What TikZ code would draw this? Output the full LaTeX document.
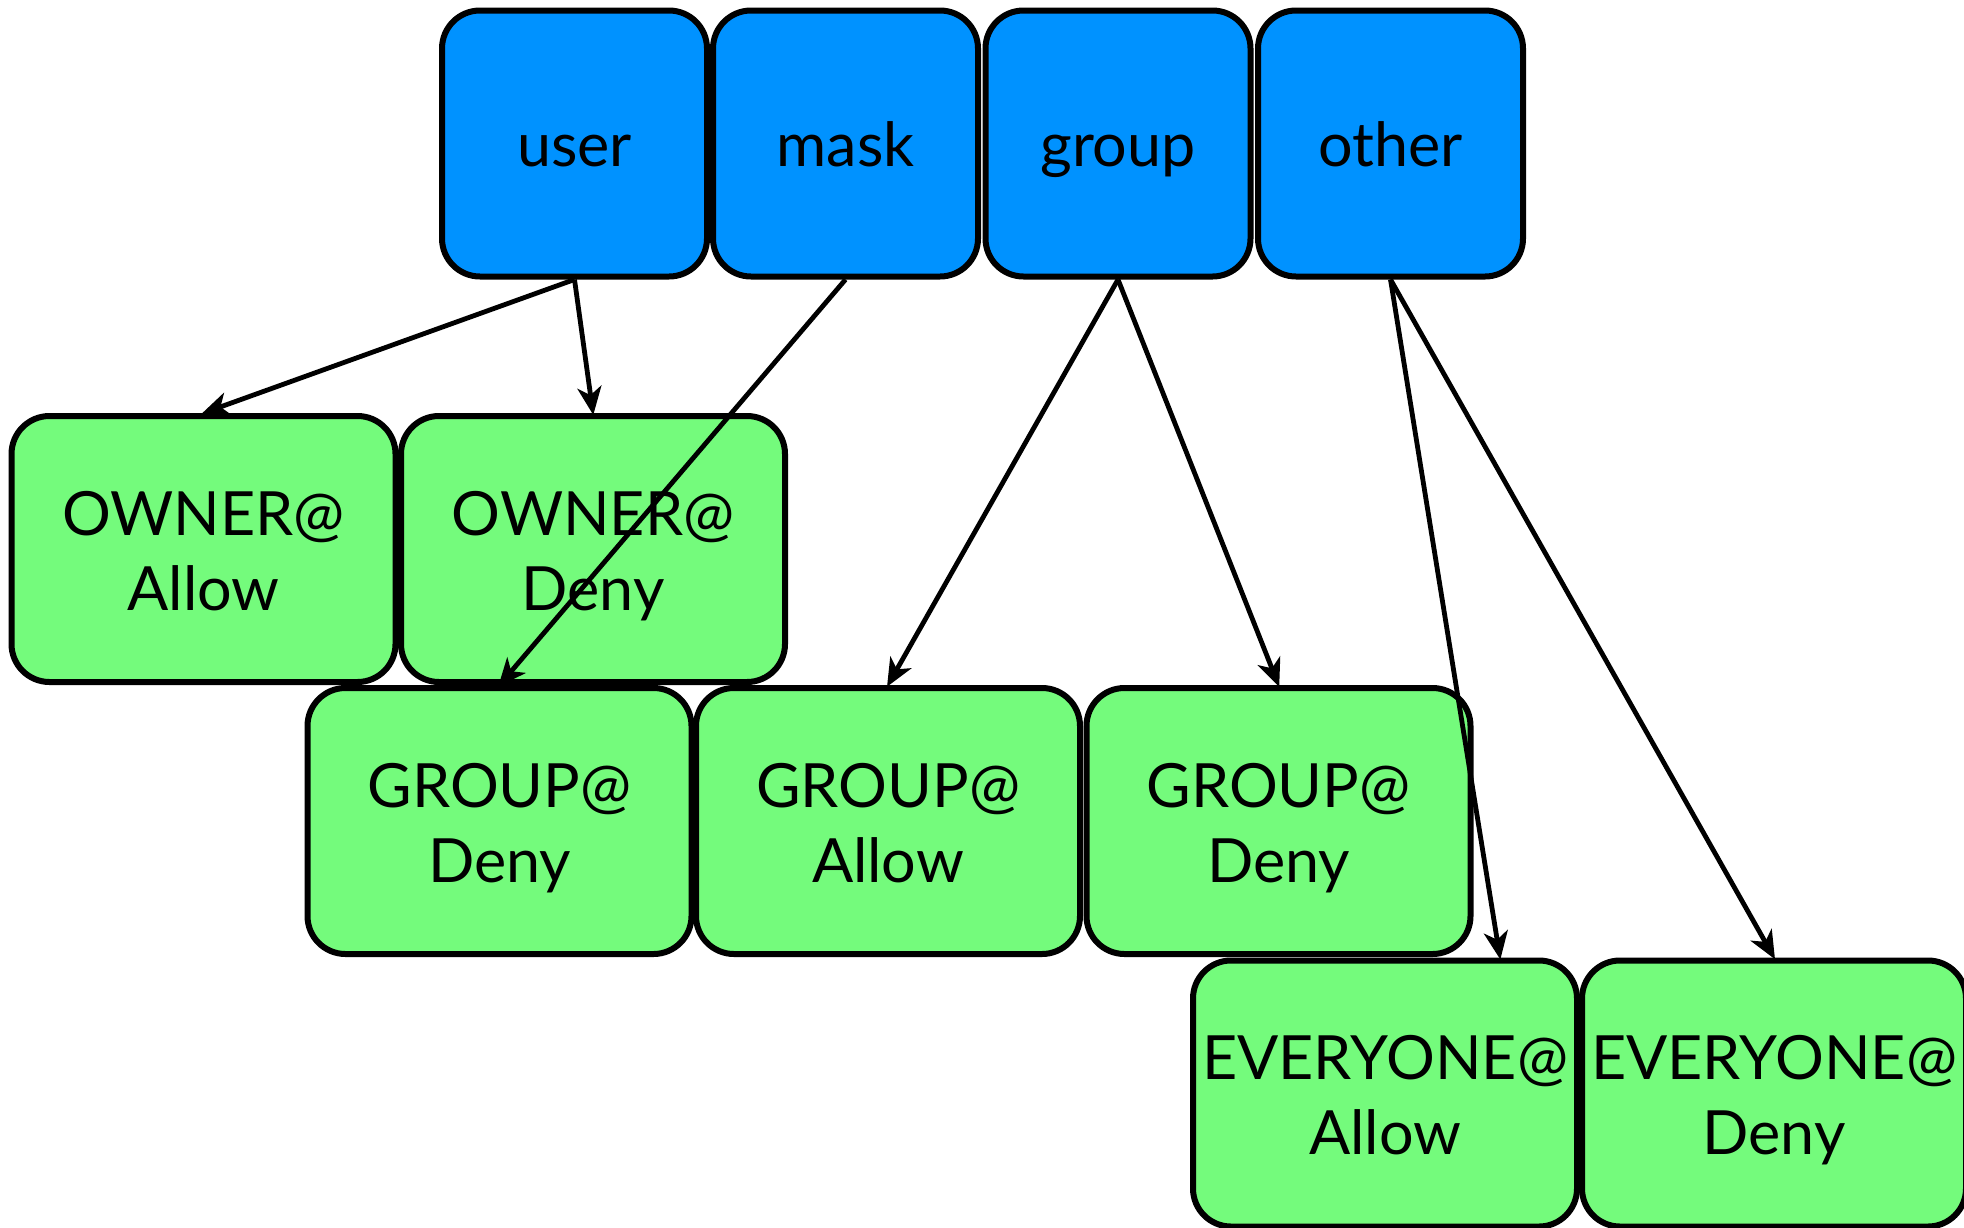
\documentclass[tikz,border=0pt]{standalone}
\usepackage{fontspec}
\setmainfont{Lato}
\usetikzlibrary{arrows.meta}
\definecolor{topblue}{RGB}{0,146,255}
\definecolor{acegreen}{RGB}{116,251,124}
\newcommand{\whotext}[1]{\rule[-4pt]{0pt}{53pt}\smash{#1}}
\newcommand{\acetext}[2]{\rule{0pt}{47pt}\smash{#1}\\\smash{#2}}
\begin{document}
\begin{tikzpicture}[x=1pt,y=-1pt,
  box/.style={draw=black, line width=6pt, rounded corners=38pt, inner sep=0pt,
    align=center, font=\fontsize{61}{75}\selectfont},
  whobox/.style={box, fill=topblue, minimum width=265pt, minimum height=266pt},
  acebox/.style={box, fill=acegreen, minimum width=384pt, minimum height=266pt},
  link/.style={-{Stealth[length=28pt,width=24pt,inset=8pt]}, line width=4.8pt, shorten >=-2pt}]
\useasboundingbox (0,0) rectangle (1964,1227);
\node[whobox] (user)  at (574.5,143.5) {\whotext{user}};
\node[whobox] (mask)  at (845.5,143.5) {\whotext{mask}};
\node[whobox] (group) at (1118,143.5) {\whotext{group}};
\node[whobox] (other) at (1390.5,143.5) {\whotext{other}};
\node[acebox] (oA) at (203.5,549) {\acetext{OWNER@}{Allow}};
\node[acebox] (oD) at (593,549) {\acetext{OWNER@}{Deny}};
\node[acebox] (gD1) at (499.5,821) {\acetext{GROUP@}{Deny}};
\node[acebox] (gA) at (888,821) {\acetext{GROUP@}{Allow}};
\node[acebox] (gD2) at (1278.5,821) {\acetext{GROUP@}{Deny}};
\node[acebox] (eA) at (1385,1093.5) {\acetext{EVERYONE@}{Allow}};
\node[acebox] (eD) at (1774,1093.5) {\acetext{EVERYONE@}{Deny}};
\coordinate (eAin) at ([xshift=115pt]eA.north);
\draw[link] (user.south) -- (oA.north);
\draw[link] (user.south) -- (oD.north);
\draw[link] (mask.south) -- (gD1.north);
\draw[link] (group.south) -- (gA.north);
\draw[link] (group.south) -- (gD2.north);
\draw[link] (other.south) -- (eAin);
\draw[link] (other.south) -- (eD.north);
\end{tikzpicture}
\end{document}
